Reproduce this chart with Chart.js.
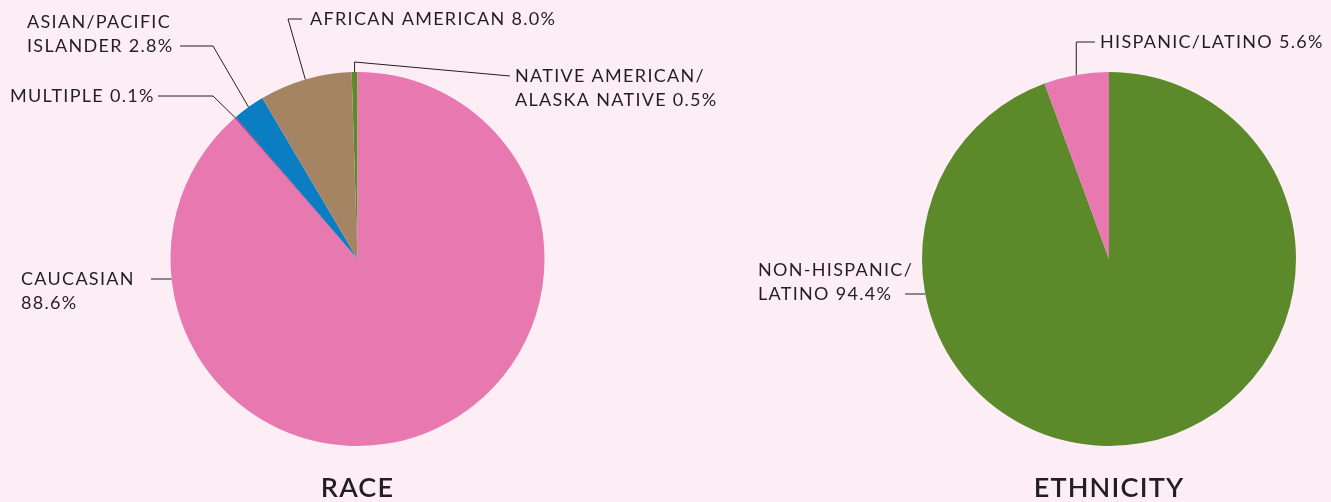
<!DOCTYPE html>
<html>
<head>
<meta charset="utf-8">
<script src="https://cdn.jsdelivr.net/npm/chart.js@4"></script>
<style>
  html, body { margin: 0; padding: 0; background: #fdeef6; }
  #wrap { position: relative; width: 1331px; height: 502px; }
  #wrap canvas { position: absolute; left: 0; top: 0; }
</style>
</head>
<body>
<div id="wrap">
  <canvas id="raceChart" width="1331" height="502"></canvas>
  <canvas id="ethnicityChart" width="1331" height="502"></canvas>
</div>
<script>
// Race breakdown, clockwise from the top
const raceNames = [["NATIVE AMERICAN/", "ALASKA NATIVE"], ["CAUCASIAN", ""], ["MULTIPLE"], ["ASIAN/PACIFIC", "ISLANDER"], ["AFRICAN AMERICAN"]];
const raceValues = [0.5, 88.6, 0.1, 2.8, 8.0];
const raceColors = ["#5c8a2b", "#e878b0", "#c8176f", "#0a7dc3", "#a58463"];

// Ethnicity breakdown
const ethnicityNames = [["NON-HISPANIC/", "LATINO"], ["HISPANIC/LATINO"]];
const ethnicityValues = [94.4, 5.6];
const ethnicityColors = ["#5c8a2b", "#e878b0"];

const RADIUS = 187;
const LINE_COLOR = "#231f20";
const LABEL_FONT = "400 18px Lato";
const TITLE_FONT = "600 27px Lato";

// label placement: text origin, leader path (null x = follow the anchor), anchor type
const raceLayout = [
    { x: 515, y: 76, path: [[510, 76], [null, 62]], to: "mid" },
    { x: 21, y: 279, path: [[151, 279]], to: "edge" },
    { x: 10, y: 96, path: [[158, 96], [213, 96]], to: "mid" },
    { x: 27, y: 22, path: [[180, 46], [213, 46]], to: "mid" },
    { x: 310, y: 19, path: [[302, 19], [288, 19]], to: "mid" }
];
const ethnicityLayout = [
    { x: 758, y: 270, path: [[905, 294]], to: "edge" },
    { x: 1100, y: 42, path: [[1095, 42], [null, 42]], to: "mid" }
];

function labelLines(name, value) {
    let lines = name.slice();
    let last = lines[lines.length - 1];
    lines[lines.length - 1] = (last ? last + " " : "") + value.toFixed(1) + "%";
    return lines;
}

// draws leader lines, slice labels and the caption under each pie
const pieLabels = {
    id: "pieLabels",
    afterDatasetsDraw(chart, args, opts) {
        let ctx = chart.ctx;
        let arcs = chart.getDatasetMeta(0).data;
        let values = chart.data.datasets[0].data;
        ctx.save();
        ctx.strokeStyle = LINE_COLOR;
        ctx.fillStyle = LINE_COLOR;
        ctx.lineWidth = 1;

        arcs.forEach((arc, i) => {
            let p = arc.getProps(["x", "y", "startAngle", "endAngle", "outerRadius"], true);
            let lay = opts.layout[i];
            let anchor;
            if (lay.to === "mid") {
                let mid = (p.startAngle + p.endAngle) / 2;
                anchor = [p.x + Math.cos(mid) * p.outerRadius, p.y + Math.sin(mid) * p.outerRadius];
            } else {
                let ly = lay.path[lay.path.length - 1][1];
                let dy = ly - p.y;
                anchor = [p.x - Math.sqrt(p.outerRadius * p.outerRadius - dy * dy), ly];
            }

            ctx.beginPath();
            lay.path.forEach((pt, k) => {
                let px = pt[0] === null ? anchor[0] : pt[0];
                if (k === 0) ctx.moveTo(px, pt[1]);
                else ctx.lineTo(px, pt[1]);
            });
            ctx.lineTo(anchor[0], anchor[1]);
            ctx.stroke();

            ctx.font = LABEL_FONT;
            ctx.letterSpacing = "1.3px";
            ctx.textAlign = "left";
            ctx.textBaseline = "middle";
            labelLines(opts.names[i], values[i]).forEach((line, k) => {
                ctx.fillText(line, lay.x, lay.y + k * 24);
            });
        });

        // caption
        let cx = arcs[0].x;
        ctx.font = TITLE_FONT;
        ctx.letterSpacing = "1.2px";
        ctx.textAlign = "center";
        ctx.textBaseline = "middle";
        ctx.fillText(opts.title, cx, 488);
        ctx.restore();
    }
};

function makePie(id, values, colors, centerX, rotation, names, layout, title) {
    let canvas = document.getElementById(id);
    return new Chart(canvas.getContext("2d"), {
        type: "pie",
        data: {
            labels: names.map(n => n.join(" ")),
            datasets: [{ data: values, backgroundColor: colors, borderWidth: 0 }]
        },
        options: {
            responsive: false,
            animation: false,
            devicePixelRatio: 1,
            rotation: rotation,
            layout: {
                padding: {
                    left: centerX - RADIUS,
                    right: canvas.width - centerX - RADIUS,
                    top: 259 - RADIUS,
                    bottom: canvas.height - 259 - RADIUS
                }
            },
            plugins: {
                legend: { display: false },
                tooltip: { enabled: false },
                pieLabels: { names: names, layout: layout, title: title }
            }
        },
        plugins: [pieLabels]
    });
}

// the race pie starts with the small native slice just left of twelve o'clock
makePie("raceChart", raceValues, raceColors, 357.5, -raceValues[0] * 3.6, raceNames, raceLayout, "RACE");
makePie("ethnicityChart", ethnicityValues, ethnicityColors, 1109, 0, ethnicityNames, ethnicityLayout, "ETHNICITY");
</script>
</body>
</html>
